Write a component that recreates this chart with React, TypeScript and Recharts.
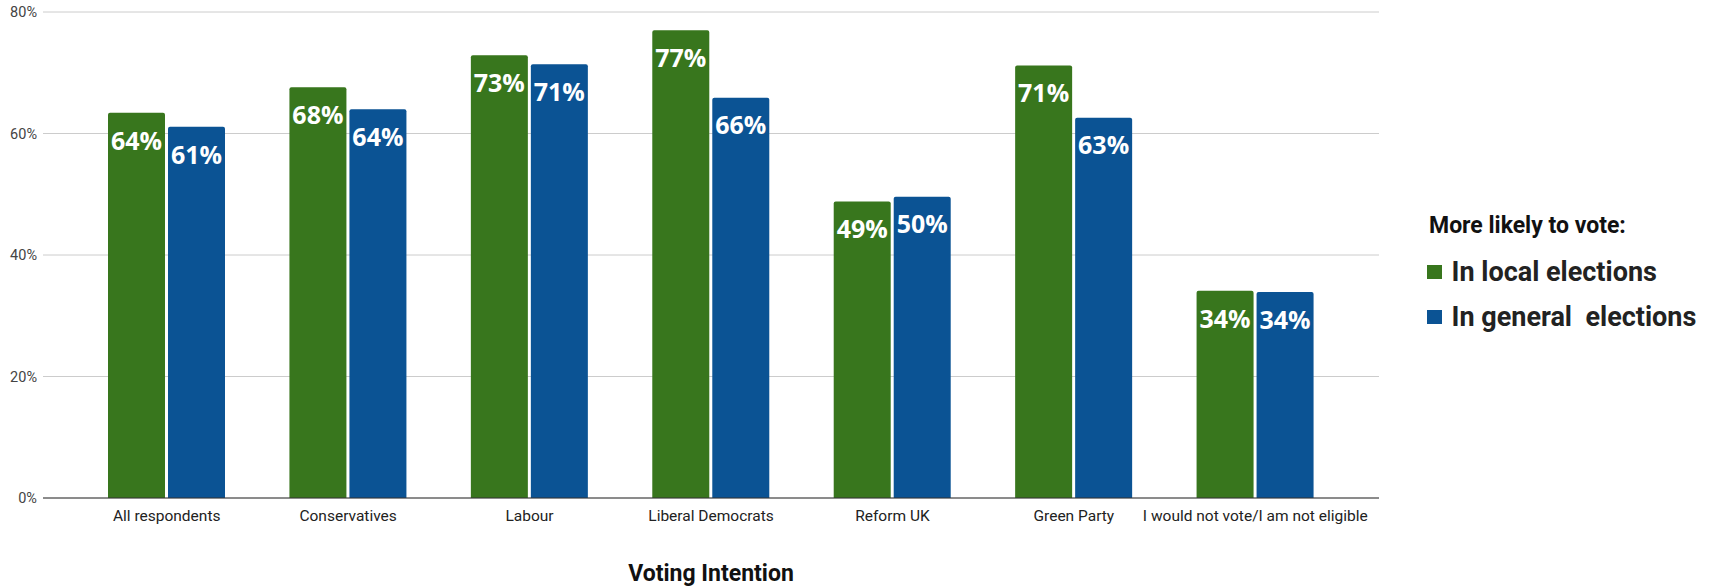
import React from "react";
import { BarChart, Bar, XAxis, YAxis, CartesianGrid, LabelList, Label } from "recharts";

const categories = [
  "All respondents",
  "Conservatives",
  "Labour",
  "Liberal Democrats",
  "Reform UK",
  "Green Party",
  "I would not vote/I am not eligible",
];

// bar heights (percent)
const localValues = [63.4, 67.6, 72.9, 77.0, 48.8, 71.2, 34.1];
const generalValues = [61.1, 64.0, 71.4, 65.9, 49.6, 62.6, 33.9];

// the rounded labels printed inside the bars
const localLabels = ["64%", "68%", "73%", "77%", "49%", "71%", "34%"];
const generalLabels = ["61%", "64%", "71%", "66%", "50%", "63%", "34%"];

const yTicks = [0, 20, 40, 60, 80];

const series = [
  { key: "local", label: "localLabel", name: "In local elections", color: "#38761d" },
  { key: "general", label: "generalLabel", name: "In general  elections", color: "#0b5394" },
];

const data = categories.map((name, i) => ({
  name,
  local: localValues[i],
  general: generalValues[i],
  localLabel: localLabels[i],
  generalLabel: generalLabels[i],
}));

function LegendBox() {
  return (
    <svg
      width={300}
      height={140}
      style={{ position: "absolute", left: 1415, top: 200, fontFamily: "Roboto" }}
    >
      <text x={14} y={32.5} fontSize={23} fontWeight={700} fill="#111">
        More likely to vote:
      </text>
      {series.map((s, i) => (
        <g key={s.key}>
          <rect x={12} y={65 + i * 45} width={15} height={14} fill={s.color} />
          <text
            x={36.5}
            y={80.5 + i * 45}
            fontSize={27}
            fontWeight={700}
            fill="#222"
            style={{ whiteSpace: "pre" }}
          >
            {s.name}
          </text>
        </g>
      ))}
    </svg>
  );
}

export default function App() {
  return (
    <div style={{ position: "absolute", left: 0, top: 0, width: 1715, height: 586, background: "#fff" }}>
      <BarChart
        width={1715}
        height={586}
        data={data}
        margin={{ top: 12, right: 336, bottom: 0, left: 0 }}
        barCategoryGap={32}
        barGap={3}
        style={{ fontFamily: "Roboto" }}
      >
        <CartesianGrid vertical={false} stroke="#cccccc" />
        <XAxis
          dataKey="name"
          height={88}
          padding={{ left: 33, right: 33 }}
          tickLine={false}
          axisLine={{ stroke: "#333" }}
          tickMargin={6}
          interval={0}
          tick={{ fontSize: 15.5, fill: "#222" }}
        >
          <Label
            value="Voting Intention"
            position="insideBottom"
            offset={5}
            fontSize={23}
            fontWeight={700}
            fill="#111"
          />
        </XAxis>
        <YAxis
          width={43}
          domain={[0, 80]}
          ticks={yTicks}
          tickFormatter={(v) => `${v}%`}
          axisLine={false}
          tickLine={false}
          tickMargin={0}
          tick={{ fontSize: 14.5, fill: "#444" }}
        />
        {series.map((s) => (
          <Bar
            key={s.key}
            dataKey={s.key}
            name={s.name}
            fill={s.color}
            radius={[2, 2, 0, 0]}
            isAnimationActive={false}
          >
            <LabelList
              dataKey={s.label}
              position="insideTop"
              offset={19}
              fill="#fff"
              fontSize={25}
              fontWeight={700}
              fontFamily="Open Sans"
            />
          </Bar>
        ))}
      </BarChart>
      <LegendBox />
    </div>
  );
}
